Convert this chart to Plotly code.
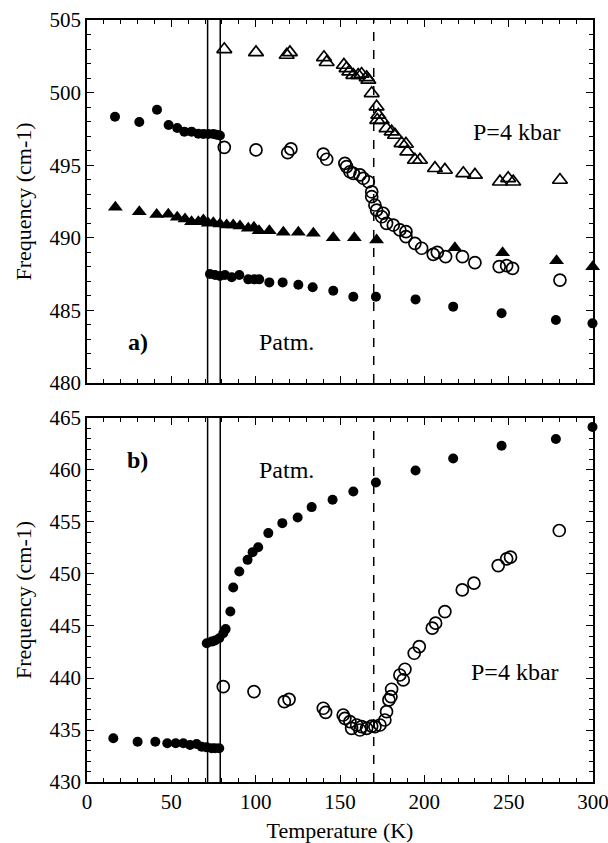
import plotly.graph_objects as go
from plotly.subplots import make_subplots

# ---------------- Panel a) ----------------
a_patm_hi_T = [16.6, 31.0, 41.5, 48.4, 53.5, 57.7, 62.0, 66.0, 69.0, 71.9, 74.9, 76.9, 78.8]
a_patm_hi_f = [498.34, 497.97, 498.82, 497.77, 497.56, 497.31, 497.31, 497.17, 497.15, 497.15, 497.15, 497.1, 497.05]

a_patm_lo_T = [72.9, 75.9, 78.8, 81.8, 85.8, 90.3, 95.6, 99.2, 102.1, 108.1, 116.0, 125.3, 133.8, 146.0,
               157.9, 171.3, 194.8, 217.1, 245.8, 278.0, 299.7]
a_patm_lo_f = [487.51, 487.44, 487.37, 487.44, 487.28, 487.44, 487.14, 487.14, 487.14, 486.93, 486.93, 486.77,
               486.59, 486.36, 485.94, 485.94, 485.76, 485.26, 484.80, 484.34, 484.11]

a_patm_tri_T = [16.8, 31.0, 41.3, 48.2, 53.5, 58.1, 62.0, 66.0, 69.0, 71.9, 74.9, 78.8, 82.8, 86.7, 90.7,
                95.6, 99.0, 102.0, 108.1, 116.4, 125.3, 134.2, 146.0, 158.5, 171.7, 218.1, 246.4, 278.4, 299.8]
a_patm_tri_f = [492.1, 491.8, 491.6, 491.63, 491.41, 491.29, 491.1, 491.1, 491.23, 491.0, 491.04, 490.95,
                490.88, 490.88, 490.81, 490.65, 490.72, 490.49, 490.49, 490.38, 490.38, 490.31, 490.01,
                490.01, 489.85, 489.32, 488.97, 488.42, 488.01]

a_p4_tri_T = [81.4, 100.2, 118.4, 120.3, 140.5, 142.1, 152.3, 153.9, 155.5, 157.9, 160.8, 162.8, 165.8,
              166.8, 168.8, 171.7, 172.7, 172.1, 174.7, 177.6, 180.6, 182.6, 186.5, 189.1, 189.9, 194.4,
              197.4, 206.3, 212.2, 223.1, 230.0, 244.8, 249.7, 252.7, 280.4]
a_p4_tri_f = [502.98, 502.77, 502.59, 502.77, 502.43, 502.09, 501.9, 501.67, 501.44, 501.21, 501.21, 501.28,
              501.05, 500.87, 499.95, 499.03, 498.46, 498.11, 498.11, 497.54, 497.31, 497.08, 496.51,
              496.46, 495.93, 495.36, 495.36, 494.79, 494.67, 494.44, 494.33, 493.86, 494.1, 493.86, 493.98]

a_p4_circ_T = [81.4, 100.2, 119.0, 120.9, 140.1, 142.1, 152.9, 153.9, 155.9, 157.9, 161.8, 163.8, 166.8,
               168.8, 168.8, 170.7, 171.7, 175.6, 174.7, 177.6, 181.6, 185.5, 189.1, 189.1, 194.4, 198.4,
               205.3, 207.7, 212.6, 222.6, 230.0, 244.4, 248.8, 252.3, 280.4]
a_p4_circ_f = [496.23, 496.05, 495.86, 496.12, 495.77, 495.41, 495.13, 494.9, 494.55, 494.44, 494.33, 494.1,
               493.86, 493.17, 492.83, 492.26, 491.91, 491.69, 491.45, 491.0, 490.88, 490.54, 490.42,
               490.08, 489.62, 489.28, 488.86, 489.0, 488.7, 488.7, 488.29, 488.01, 488.08, 487.9, 487.09]

# ---------------- Panel b) ----------------
b_patm_lo_T = [15.6, 30.0, 40.5, 47.6, 52.6, 57.1, 61.1, 65.0, 68.0, 71.0, 73.9, 75.9, 78.4]
b_patm_lo_f = [434.2, 433.87, 433.87, 433.72, 433.72, 433.72, 433.56, 433.65, 433.4, 433.33, 433.24, 433.24, 433.24]

b_patm_hi_T = [71.0, 73.9, 75.9, 78.4, 80.8, 82.2, 85.0, 86.7, 90.3, 95.2, 98.2, 101.5, 107.5, 115.8,
               124.9, 133.2, 145.6, 157.9, 171.3, 194.8, 217.1, 245.8, 278.0, 299.7]
b_patm_hi_f = [443.34, 443.5, 443.6, 443.83, 444.3, 444.7, 446.39, 448.7, 450.24, 451.36, 452.1, 452.58,
               453.93, 454.89, 455.43, 456.43, 457.14, 457.94, 458.8, 459.96, 461.11, 462.33, 462.98, 464.13]

b_p4_circ_T = [80.8, 99.0, 117.0, 119.8, 140.1, 141.5, 151.9, 152.9, 155.9, 156.9, 159.9, 161.8, 162.8,
               165.8, 168.8, 170.7, 173.7, 176.6, 177.6, 179.0, 180.2, 180.6, 185.5, 187.5, 188.5, 194.0,
               197.0, 204.7, 206.7, 212.2, 222.5, 229.4, 243.8, 248.8, 251.1, 280.0]
b_p4_circ_f = [439.17, 438.69, 437.72, 437.95, 437.09, 436.7, 436.44, 436.12, 435.8, 435.16, 435.48, 435.0,
               435.32, 435.16, 435.38, 435.32, 435.48, 435.96, 436.76, 437.89, 438.2, 438.92, 440.29,
               439.81, 440.84, 442.38, 443.02, 444.79, 445.27, 446.39, 448.47, 449.12, 450.81, 451.46,
               451.62, 454.18]

transition_T = [71.5, 79.0]
tc_T = 170.0

x_ticks = [0, 50, 100, 150, 200, 250, 300]
ya_ticks = [480, 485, 490, 495, 500, 505]
yb_ticks = [430, 435, 440, 445, 450, 455, 460, 465]

FONT = "Times New Roman, Liberation Serif, serif"

fig = make_subplots(rows=2, cols=1, shared_xaxes=False, vertical_spacing=0.0)

filled = dict(symbol="circle", size=10, color="black")
opencirc = dict(symbol="circle-open", size=12, color="black", line=dict(width=1.7, color="black"))
filltri = dict(symbol="triangle-up", size=13, color="black")
opentri = dict(symbol="triangle-up-open", size=13, color="black", line=dict(width=1.7, color="black"))

def add(x, y, m, row):
    fig.add_trace(go.Scatter(x=x, y=y, mode="markers", marker=m, showlegend=False,
                             hoverinfo="skip", cliponaxis=False), row=row, col=1)

add(a_patm_tri_T, a_patm_tri_f, filltri, 1)
add(a_patm_hi_T, a_patm_hi_f, filled, 1)
add(a_patm_lo_T, a_patm_lo_f, filled, 1)
add(a_p4_tri_T, a_p4_tri_f, opentri, 1)
add(a_p4_circ_T, a_p4_circ_f, opencirc, 1)

add(b_patm_lo_T, b_patm_lo_f, filled, 2)
add(b_patm_hi_T, b_patm_hi_f, filled, 2)
add(b_p4_circ_T, b_p4_circ_f, opencirc, 2)

shapes = []
for yref in ["y domain", "y2 domain"]:
    xref = "x" if yref == "y domain" else "x2"
    for t in transition_T:
        shapes.append(dict(type="line", xref=xref, yref=yref, x0=t, x1=t, y0=0, y1=1,
                           line=dict(color="black", width=1.5)))
    shapes.append(dict(type="line", xref=xref, yref=yref, x0=tc_T, x1=tc_T, y0=0, y1=1,
                       line=dict(color="black", width=1.5, dash="dash")))

axis_common = dict(showline=True, linecolor="black", linewidth=1.6, mirror="ticks",
                   ticks="inside", ticklen=7, tickwidth=1.3, tickcolor="black",
                   showgrid=False, zeroline=False, automargin=False,
                   tickfont=dict(family=FONT, size=21, color="black"))

title_font = dict(family=FONT, size=22, color="black")

fig.update_xaxes(range=[0, 300], tickvals=x_ticks, ticklabeloverflow="allow",
                 minor=dict(ticks="inside", dtick=10, ticklen=4, tickwidth=1, tickcolor="black"),
                 **axis_common)
fig.update_xaxes(showticklabels=False, row=1, col=1)
fig.update_xaxes(title=dict(text="Temperature (K)", font=title_font, standoff=10), row=2, col=1)

fig.update_yaxes(minor=dict(ticks="inside", dtick=1, ticklen=4, tickwidth=1, tickcolor="black"),
                 **axis_common)
fig.update_yaxes(range=[480, 505], tickvals=ya_ticks, row=1, col=1,
                 title=dict(text="Frequency (cm-1)", font=title_font, standoff=12))
fig.update_yaxes(range=[430, 465], tickvals=yb_ticks, row=2, col=1,
                 title=dict(text="Frequency (cm-1)", font=title_font, standoff=12))

fig.update_layout(
    xaxis=dict(domain=[0, 1]),
    yaxis=dict(domain=[0.5236, 1.0]),
    xaxis2=dict(domain=[0, 1]),
    yaxis2=dict(domain=[0.0, 0.4777]),
)

txt = dict(family=FONT, size=24, color="black")
annotations = [
    dict(x=255, y=497.3, xref="x", yref="y", text="P=4 kbar", showarrow=False, font=txt),
    dict(x=30, y=482.8, xref="x", yref="y", text="<b>a)</b>", showarrow=False, font=txt),
    dict(x=118.5, y=482.8, xref="x", yref="y", text="Patm.", showarrow=False, font=txt),
    dict(x=30, y=461.0, xref="x2", yref="y2", text="<b>b)</b>", showarrow=False, font=txt),
    dict(x=118.5, y=460.0, xref="x2", yref="y2", text="Patm.", showarrow=False, font=txt),
    dict(x=254, y=440.6, xref="x2", yref="y2", text="P=4 kbar", showarrow=False, font=txt),
]

fig.update_layout(
    width=608, height=843,
    margin=dict(l=87, r=15, t=20, b=61),
    paper_bgcolor="white", plot_bgcolor="white",
    shapes=shapes, annotations=annotations,
    font=dict(family=FONT, color="black"),
)

fig.write_html("out.html")
